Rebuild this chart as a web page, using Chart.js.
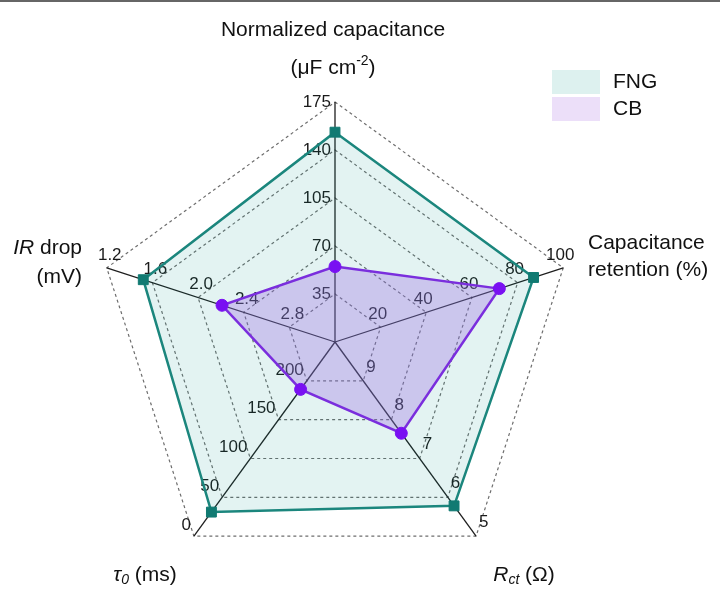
<!DOCTYPE html>
<html>
<head>
<meta charset="utf-8">
<script src="https://cdn.jsdelivr.net/npm/chart.js@4/dist/chart.umd.min.js"></script>
<style>
  html, body { margin: 0; padding: 0; background: #fff; }
  #wrap { width: 720px; height: 596px; position: relative; }
</style>
</head>
<body>
<div id="wrap"><canvas id="chart_elem"></canvas></div>
<script>

// axes, clockwise from the top
const axisNames = ['Normalized capacitance', 'Capacitance retention', 'Rct', 'tau0', 'IR drop'];

// value at the centre and at the outer ring of each axis
const axisCenter = [0, 0, 10, 250, 3.2];
const axisOuter = [175, 100, 5, 0, 1.2];

// tick labels on each axis, inner ring -> outer ring
const tickLabels = [
  ['35', '70', '105', '140', '175'],
  ['20', '40', '60', '80', '100'],
  ['9', '8', '7', '6', '5'],
  ['200', '150', '100', '50', '0'],
  ['2.8', '2.4', '2.0', '1.6', '1.2']
];

const fngValues = [153, 87, 5.78, 31, 1.52];
const cbValues = [55, 72, 7.65, 189, 2.21];

const seriesNames = ['FNG', 'CB'];

const FONT = "'Liberation Sans', Arial, sans-serif";

// map a raw value of axis i onto the shared 0..5 radial scale
const toScale = (v, i) => (v - axisCenter[i]) / (axisOuter[i] - axisCenter[i]) * 5;

const drawRuns = (ctx, runs, x, y, align) => {
  let total = 0;
  runs.forEach((r) => {
    ctx.font = (r.italic ? 'italic ' : '') + r.size + 'px ' + FONT;
    r.w = ctx.measureText(r.t).width;
    total += r.w;
  });
  let cx = x;
  if (align === 'center') cx = x - total / 2;
  if (align === 'right') cx = x - total;
  ctx.textAlign = 'left';
  ctx.textBaseline = 'middle';
  runs.forEach((r) => {
    ctx.font = (r.italic ? 'italic ' : '') + r.size + 'px ' + FONT;
    ctx.fillText(r.t, cx, y + (r.dy || 0));
    cx += r.w;
  });
};

// per axis tick labels, drawn under the fills so they get tinted
const tickPlugin = {
  id: 'axisTicks',
  beforeDatasetsDraw(chart) {
    const scale = chart.scales.r;
    const ctx = chart.ctx;
    ctx.save();
    ctx.fillStyle = '#1a1a1a';
    ctx.font = '17px ' + FONT;
    ctx.textBaseline = 'middle';
    tickLabels.forEach((labels, i) => {
      labels.forEach((txt, k) => {
        const p = scale.getPointPositionForValue(i, k + 1);
        if (i === 0) {
          ctx.textAlign = 'right';
          ctx.fillText(txt, p.x - 4, p.y);
        } else if (i === 1) {
          ctx.textAlign = 'center';
          ctx.fillText(txt, p.x - 3, p.y - 13);
        } else if (i === 2) {
          ctx.textAlign = 'left';
          ctx.fillText(txt, p.x + 3, p.y - 14);
        } else if (i === 3) {
          ctx.textAlign = 'right';
          ctx.fillText(txt, p.x - 3, p.y - 11);
        } else {
          ctx.textAlign = 'center';
          ctx.fillText(txt, p.x + 3, p.y - 13);
        }
      });
    });
    ctx.restore();
  },
  afterDraw(chart) {
    const scale = chart.scales.r;
    const ctx = chart.ctx;
    const cx = scale.xCenter, cy = scale.yCenter, R = scale.drawingArea;
    ctx.save();

    // top rule
    ctx.fillStyle = '#666';
    ctx.fillRect(0, 0, chart.width, 2);
    ctx.fillStyle = '#111';

    // axis titles
    drawRuns(ctx, [{t: 'Normalized capacitance', size: 21}], cx - 2, cy - R - 72, 'center');
    drawRuns(ctx, [
      {t: '(\u03bcF cm', size: 21},
      {t: '-2', size: 14, dy: -7},
      {t: ')', size: 21}
    ], cx - 2, cy - R - 34, 'center');

    drawRuns(ctx, [{t: 'Capacitance', size: 21}], cx + 253, cy - 99, 'left');
    drawRuns(ctx, [{t: 'retention (%)', size: 21}], cx + 253, cy - 72, 'left');

    drawRuns(ctx, [{t: 'IR', size: 21, italic: true}, {t: ' drop', size: 21}], cx - 253, cy - 94, 'right');
    drawRuns(ctx, [{t: '(mV)', size: 21}], cx - 253, cy - 65, 'right');

    drawRuns(ctx, [
      {t: '\u03c4', size: 21, italic: true},
      {t: '0', size: 14, italic: true, dy: 5},
      {t: ' (ms)', size: 21}
    ], cx - 190, cy + 233, 'center');
    drawRuns(ctx, [
      {t: 'R', size: 21, italic: true},
      {t: 'ct', size: 14, italic: true, dy: 5},
      {t: ' (\u03a9)', size: 21}
    ], cx + 189, cy + 233, 'center');

    // legend
    const legendFill = ['#ddf1ef', '#ecdff9'];
    seriesNames.forEach((name, i) => {
      const y = 70 + i * 27;
      ctx.fillStyle = legendFill[i];
      ctx.fillRect(552, y, 48, 24);
      ctx.fillStyle = '#111';
      drawRuns(ctx, [{t: name, size: 21}], 613, y + 12, 'left');
    });
    ctx.restore();
  }
};

const canvas = document.getElementById('chart_elem');
const ctx = canvas.getContext('2d');

const data = {
  labels: axisNames,
  datasets: [{
    label: seriesNames[0],
    data: fngValues.map(toScale),
    borderColor: '#1b867d',
    backgroundColor: 'rgba(0, 150, 136, 0.11)',
    borderWidth: 2.5,
    pointStyle: 'rect',
    pointRadius: 7,
    pointBackgroundColor: '#117a72',
    pointBorderColor: '#117a72',
    pointBorderWidth: 1,
    fill: true
  }, {
    label: seriesNames[1],
    data: cbValues.map(toScale),
    borderColor: '#8a22e8',
    backgroundColor: 'rgba(172, 100, 236, 0.33)',
    borderWidth: 2.5,
    pointStyle: 'circle',
    pointRadius: 6,
    pointBackgroundColor: '#8800ff',
    pointBorderColor: '#8800ff',
    pointBorderWidth: 1,
    fill: true
  }]
};

const config = {
  type: 'radar',
  data,
  options: {
    responsive: true,
    maintainAspectRatio: false,
    animation: false,
    layout: {
      padding: { left: 95, right: 145, top: 102, bottom: 14 }
    },
    plugins: {
      legend: { display: false },
      tooltip: { enabled: false }
    },
    elements: {
      line: { tension: 0 }
    },
    scales: {
      r: {
        min: 0,
        max: 5,
        ticks: { display: false, stepSize: 1 },
        pointLabels: { display: false },
        grid: { color: '#6e6e6e', lineWidth: 1.2 },
        border: { dash: [3, 3] },
        angleLines: { color: '#1e1e1e', lineWidth: 1.3 }
      }
    }
  },
  plugins: [tickPlugin]
};

const chart = new Chart(ctx, config);
</script>
</body>
</html>
